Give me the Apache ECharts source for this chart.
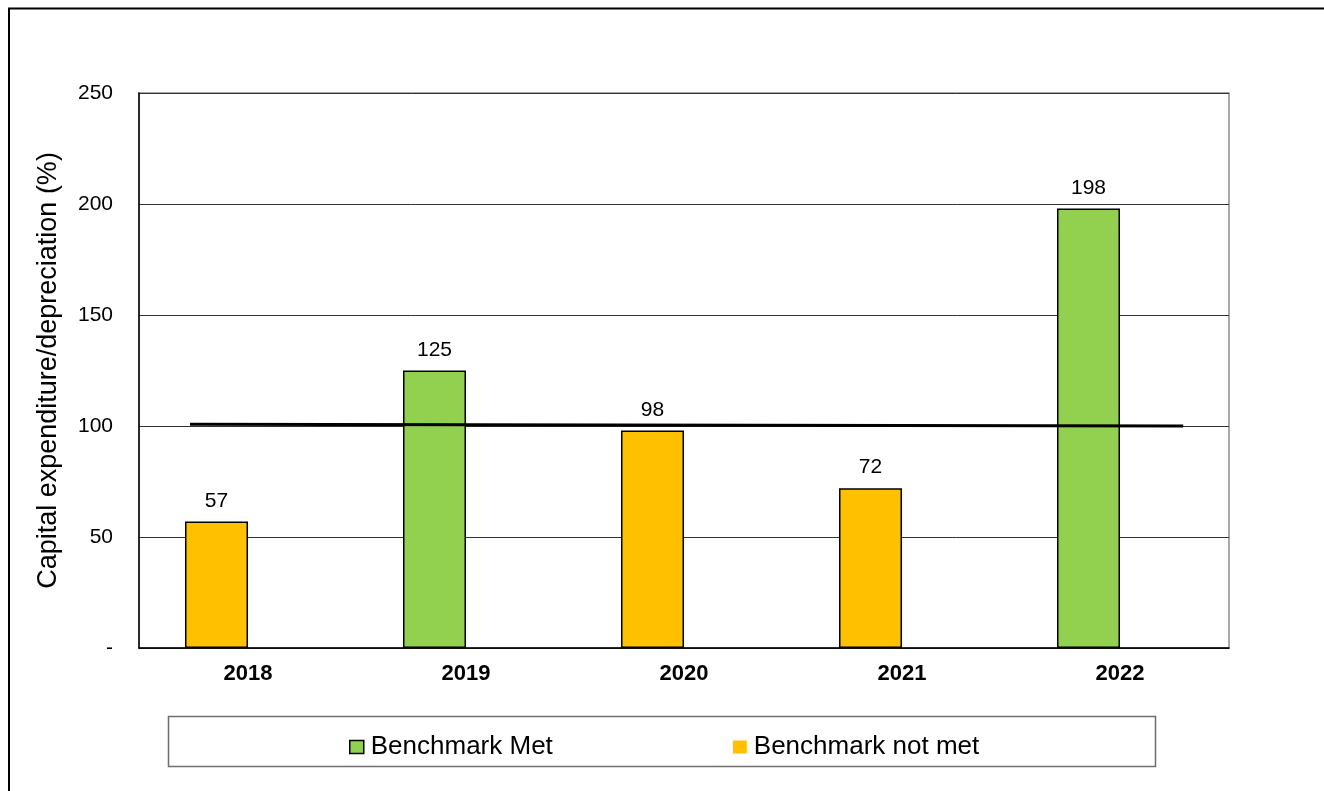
<!DOCTYPE html>
<html>
<head>
<meta charset="utf-8">
<script src="https://cdn.jsdelivr.net/npm/echarts@6/dist/echarts.min.js"></script>
<style>
  html, body { margin: 0; padding: 0; background: #fff; }
  #chart { width: 1324px; height: 791px; }
</style>
</head>
<body>
<div id="chart"></div>
<script>
// Capital expenditure as a share of depreciation, by year
const years = ['2018', '2019', '2020', '2021', '2022'];
const metValues = ['-', 125, '-', '-', 198];
const notMetValues = [57, '-', 98, 72, '-'];
// Benchmark line: [x position in category units, value]
const benchmarkLine = [[0.234, 100.8], [4.79, 100]];
const yTicks = { min: 0, max: 250, interval: 50 };

const FONT = '"Liberation Sans", Arial, sans-serif';
const GRID = { left: 139, top: 93, width: 1090, height: 555 };

const chart = echarts.init(document.getElementById('chart'), null, { renderer: 'canvas' });

const barLabel = {
  show: true,
  position: 'top',
  distance: 10,
  color: '#000',
  fontFamily: FONT,
  fontSize: 21
};

chart.setOption({
  animation: false,
  backgroundColor: '#fff',
  grid: Object.assign({ show: true, borderColor: '#8c8c8c', borderWidth: 1.5, backgroundColor: 'transparent' }, GRID),
  xAxis: [
    {
      type: 'category',
      data: years,
      axisLine: { show: true, lineStyle: { color: '#000', width: 1.5 } },
      axisTick: { show: false },
      axisLabel: { color: '#000', fontFamily: FONT, fontSize: 22, fontWeight: 'bold', margin: 15 },
      splitLine: { show: false }
    },
    {
      type: 'value',
      min: 0,
      max: 5,
      show: false
    }
  ],
  yAxis: {
    type: 'value',
    min: yTicks.min,
    max: yTicks.max,
    interval: yTicks.interval,
    name: 'Capital expenditure/depreciation (%)',
    nameLocation: 'middle',
    nameGap: 77,
    nameTextStyle: { color: '#000', fontFamily: FONT, fontSize: 27 },
    axisLine: { show: true, lineStyle: { color: '#000', width: 1.5 } },
    axisTick: { show: false },
    axisLabel: {
      color: '#000',
      fontFamily: FONT,
      fontSize: 21,
      margin: 26,
      formatter: v => (v === 0 ? '-' : String(v))
    },
    splitLine: { show: true, lineStyle: { color: '#333', width: 1 } }
  },
  legend: {
    left: 349,
    top: 734,
    padding: 0,
    itemWidth: 14,
    itemHeight: 13,
    itemGap: 180,
    textStyle: { color: '#000', fontFamily: FONT, fontSize: 26, padding: [0, 0, 0, 2] },
    data: [
      { name: 'Benchmark Met', icon: 'rect', itemStyle: { color: '#92D050', borderColor: '#000', borderWidth: 1.5 } },
      { name: 'Benchmark not met', icon: 'rect', itemStyle: { color: '#FFC000', borderWidth: 0 } }
    ]
  },
  graphic: [
    // outer frame
    {
      type: 'polyline',
      shape: { points: [[9, 791], [9, 8.5], [1324, 8.5]] },
      style: { stroke: '#000', lineWidth: 2, fill: null },
      silent: true
    },
    // legend box
    {
      type: 'rect',
      shape: { x: 168.5, y: 716.5, width: 987, height: 50 },
      style: { stroke: '#6e6e6e', lineWidth: 1.5, fill: null },
      silent: true,
      z: -1
    }
  ],
  series: [
    {
      name: 'Benchmark Met',
      type: 'bar',
      stack: 'capex',
      data: metValues,
      barWidth: 63,
      barGap: 0,
      itemStyle: { color: '#92D050', borderColor: '#000', borderWidth: 1.5 },
      label: barLabel,
      z: 2
    },
    {
      name: 'Benchmark not met',
      type: 'bar',
      stack: 'capex',
      data: notMetValues,
      barWidth: 63,
      barGap: 0,
      itemStyle: { color: '#FFC000', borderColor: '#000', borderWidth: 1.5 },
      label: barLabel,
      z: 2
    },
    {
      // empty slot to the right of each bar
      name: 'spacer',
      type: 'bar',
      data: [],
      barWidth: 63,
      barGap: 0,
      silent: true
    },
    {
      name: 'Benchmark',
      type: 'line',
      xAxisIndex: 1,
      data: benchmarkLine,
      symbol: 'none',
      lineStyle: { color: '#000', width: 3 },
      z: 5
    }
  ]
});
</script>
</body>
</html>
